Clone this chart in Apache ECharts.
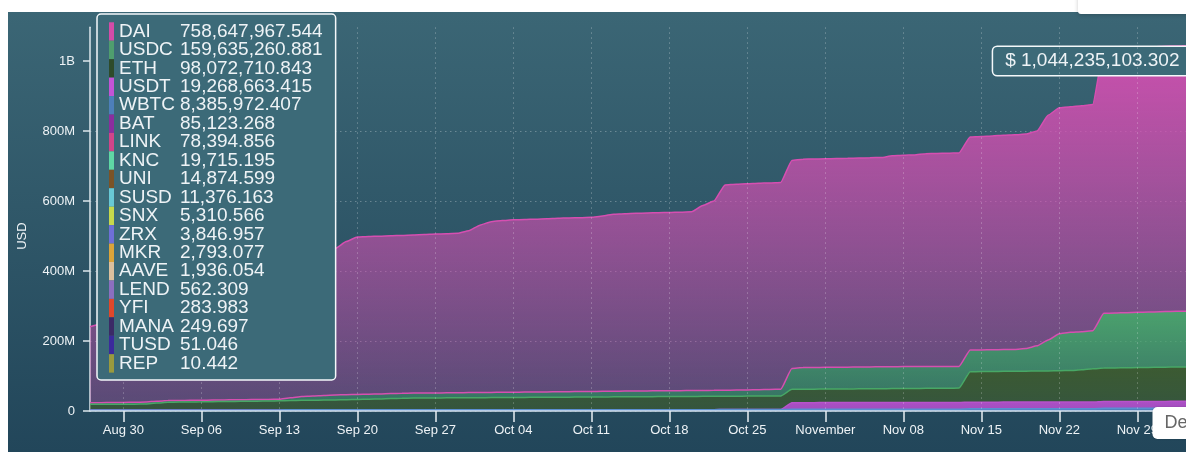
<!DOCTYPE html>
<html lang="en">

<head>
  <meta charset="UTF-8">
  <meta name="viewport" content="width=device-width, initial-scale=1.0">
  <title>locked value by asset</title>
  <style>
    html, body { margin: 0; padding: 0; background: #fff; overflow: hidden; }
    body { position: relative; width: 1186px; height: 452px; }
    .ch-box { position: absolute; left: 8px; top: 12px; width: 1230px; height: 440px; background: linear-gradient(#3b6675, #22465a); }
    .tvl-chart { width: 100%; height: 100%; }
    .top-card { position: absolute; left: 1078px; top: -12px; width: 220px; height: 26px; background: #fff; border-radius: 3px; box-shadow: 0 1px 4px rgba(0, 0, 0, .2); }
  </style>
</head>

<body>
  <div class="ch-box">
    <div class="tvl-chart" id="tvl-chart"></div>
  </div>
  <div class="top-card"></div>

  <script src="https://cdn.jsdelivr.net/npm/echarts@6/dist/echarts.min.js"></script>
  <script>
    // first day shown and number of daily points
    var startDay = [2020, 7, 27]
    var dayCount = 100

    var coins = ['DAI', 'USDC', 'ETH', 'USDT', 'WBTC', 'BAT', 'LINK', 'KNC', 'UNI', 'SUSD',
      'SNX', 'ZRX', 'MKR', 'AAVE', 'LEND', 'YFI', 'MANA', 'TUSD', 'REP']
    var coinColors = ['#d34ca8', '#4f9e6e', '#2e4b2a', '#c354d6', '#4d7fba', '#8b2e9e', '#d0458a', '#5fd8a5', '#7b5327', '#68c9d6',
      '#c6d84c', '#6e6fd8', '#dba43a', '#dcc09e', '#8b6fc0', '#e0482a', '#3b2a66', '#3b2a9c', '#9a9a3e']
    // values at the hovered (last) day, USD
    var latestValues = [758647967.544, 159635260.881, 98072710.843, 19268663.415, 8385972.407, 85123.268, 78394.856,
      19715.195, 14874.599, 11376.163, 5310.566, 3846.957, 2793.077, 1936.054, 562.309, 283.983, 249.697, 51.046, 10.442]

    var yTicks = [0, 200e6, 400e6, 600e6, 800e6, 1000e6]

    // daily balances, millions of USD
    var daiM = [
      217.3, 225.0, 226.7, 228.4, 231.0, 236.4, 243.0, 253.4, 266.0, 281.6,
      299.2, 309.8, 320.4, 337.0, 350.6, 359.2, 370.9, 385.6, 390.5, 395.5,
      403.0, 410.5, 418.3, 437.4, 449.7, 450.5, 450.7, 450.8, 450.9, 451.5,
      452.7, 453.9, 454.6, 455.3, 462.5, 478.2, 487.9, 490.6, 492.4, 493.1,
      493.8, 494.5, 495.7, 496.4, 496.6, 497.3, 501.0, 505.7, 506.9, 507.6,
      508.3, 509.0, 509.2, 509.9, 510.6, 528.3, 541.0, 586.6, 588.2, 588.8,
      589.7, 589.9, 590.7, 594.6, 595.5, 595.7, 595.9, 596.1, 596.8, 597.0,
      597.7, 597.9, 602.6, 603.9, 604.9, 608.3, 608.7, 609.1, 610.0, 608.7,
      609.9, 611.0, 612.1, 613.2, 612.5, 614.0, 642.0, 645.5, 644.5, 645.5,
      646.2, 756.0, 757.0, 757.0, 757.2, 757.4, 758.1, 758.3, 758.5, 758.647967544
    ]
    var usdcM = [
      4.6, 4.8, 5.0, 5.2, 5.4, 5.8, 5.5, 4.6, 4.6, 4.6,
      4.6, 4.6, 4.6, 4.6, 4.6, 4.6, 4.5, 4.4, 7.7, 11.1,
      12.2, 13.4, 14.3, 14.6, 14.5, 14.4, 14.4, 14.3, 14.3, 14.2,
      14.2, 14.3, 14.4, 14.5, 14.6, 14.7, 14.8, 14.9, 15.0, 15.1,
      15.2, 15.3, 15.4, 15.6, 15.7, 15.8, 16.0, 16.1, 16.2, 16.3,
      16.4, 16.5, 16.6, 16.7, 16.8, 16.9, 17.0, 17.2, 17.4, 17.7,
      18.2, 18.8, 19.3, 59.4, 61.8, 61.9, 62.0, 62.1, 62.2, 62.3,
      62.4, 62.5, 62.6, 62.6, 62.4, 62.3, 62.2, 62.0, 61.8, 62.0,
      62.0, 62.1, 62.2, 62.3, 64.7, 71.9, 88.6, 105.7, 108.9, 109.0,
      108.3, 156.5, 157.0, 157.5, 157.8, 158.2, 158.6, 159.0, 159.5, 159.635260881
    ]
    var ethM = [
      16.1, 16.2, 16.3, 16.4, 16.6, 16.8, 19.5, 22.0, 22.4, 22.8,
      23.0, 23.4, 23.8, 24.2, 24.6, 25.0, 25.4, 25.8, 26.6, 27.2,
      27.6, 27.9, 28.2, 28.8, 29.6, 30.4, 31.2, 32.2, 33.1, 33.6,
      33.6, 33.8, 34.0, 34.2, 34.4, 34.6, 34.8, 35.0, 35.1, 35.3,
      35.5, 35.7, 35.9, 36.0, 36.2, 36.4, 36.5, 36.7, 36.9, 37.1,
      37.2, 37.3, 37.4, 37.5, 37.7, 37.9, 38.1, 38.2, 38.4, 38.5,
      38.6, 38.8, 39.0, 38.2, 38.3, 38.5, 38.7, 38.9, 39.1, 39.3,
      39.5, 39.7, 39.9, 40.1, 40.3, 40.5, 40.7, 41.0, 41.3, 87.0,
      87.3, 87.6, 87.9, 88.2, 88.5, 88.8, 89.1, 89.5, 90.3, 92.2,
      95.2, 95.2, 95.7, 96.2, 96.7, 97.1, 97.5, 97.9, 98.0, 98.072710843
    ]
    var usdtM = [
      0, 0, 0, 0, 0, 0, 0, 0, 0, 0,
      0, 0, 0, 0, 0, 0, 0, 0, 0, 0,
      0, 0, 0, 0, 0, 0, 0, 0, 0, 0,
      0, 0, 0, 0, 0, 0, 0, 0, 0, 0,
      0, 0, 0, 0, 0, 0, 0, 0, 0, 0,
      0, 0, 0, 0, 0, 0, 0, 0, 0, 0,
      0, 0, 0, 18.9, 19.0, 19.0, 19.0, 19.0, 19.0, 19.0,
      19.0, 19.0, 19.0, 19.0, 19.0, 19.0, 19.0, 19.0, 19.0, 19.1,
      19.1, 19.1, 19.1, 19.1, 19.1, 19.1, 19.1, 19.1, 19.1, 19.1,
      19.1, 19.2, 19.2, 19.2, 19.2, 19.2, 19.2, 19.2, 19.25, 19.268663415
    ]
    var wbtcM = [
      2.9, 2.9, 3.0, 3.0, 3.0, 3.0, 3.1, 3.1, 3.1, 3.1,
      3.1, 3.2, 3.2, 3.2, 3.2, 3.2, 3.2, 3.2, 3.3, 3.3,
      3.3, 3.3, 3.3, 3.3, 3.3, 3.3, 3.3, 3.4, 3.4, 3.4,
      3.4, 3.4, 3.5, 3.5, 3.5, 3.5, 3.5, 3.5, 3.6, 3.6,
      3.6, 3.6, 3.6, 3.6, 3.7, 3.7, 3.7, 3.7, 3.7, 3.8,
      3.8, 3.8, 3.8, 3.9, 3.9, 3.9, 3.9, 4.0, 4.0, 4.0,
      4.0, 4.1, 4.1, 4.9, 4.9, 4.9, 5.0, 5.0, 5.0, 5.0,
      5.0, 5.1, 5.1, 5.1, 5.1, 5.2, 5.2, 5.2, 5.2, 6.2,
      6.2, 6.2, 6.3, 6.3, 6.3, 6.3, 6.4, 6.4, 6.4, 6.4,
      6.5, 8.1, 8.1, 8.1, 8.2, 8.2, 8.2, 8.3, 8.3, 8.385972407
    ]

    var font = "'Liberation Sans', Arial, sans-serif"
    var textColor = '#eef3f6'
    var monthShort = ['Jan', 'Feb', 'Mar', 'Apr', 'May', 'Jun', 'Jul', 'Aug', 'Sep', 'Oct', 'Nov', 'Dec']
    var monthLong = ['January', 'February', 'March', 'April', 'May', 'June', 'July', 'August',
      'September', 'October', 'November', 'December']

    var dates = []
    for (var i = 0; i < dayCount; i++) {
      dates.push(new Date(Date.UTC(startDay[0], startDay[1], startDay[2] + i)).toISOString().slice(0, 10))
    }

    var dateLabel = function (s) {
      var m = +s.slice(5, 7) - 1
      var d = s.slice(8, 10)
      return d === '01' ? monthLong[m] : monthShort[m] + ' ' + d
    }
    // one tick a week, on the Sundays
    var weekly = function (index) {
      return (index - 3) % 7 === 0
    }
    var money = function (v) {
      var parts = v.toFixed(3).split('.')
      return parts[0].replace(/\B(?=(\d{3})+(?!\d))/g, ',') + '.' + parts[1]
    }

    var latest = {}
    var total = 0
    coins.forEach(function (c, i) {
      latest[c] = latestValues[i]
      total += latestValues[i]
    })

    // stacked from the bottom up; each edge line takes the colour of the layer above it
    var layers = [
      { name: 'WBTC', values: wbtcM, stroke: '#5b8fd2', fill: ['rgba(84,136,200,0.95)', 'rgba(84,136,200,0.85)'] },
      { name: 'USDT', values: usdtM, stroke: '#b852cc', fill: ['rgba(186,80,208,0.9)', 'rgba(186,80,208,0.85)'] },
      { name: 'ETH', values: ethM, stroke: '#48a866', fill: ['rgba(62,92,46,0.92)', 'rgba(62,92,46,0.65)'] },
      { name: 'USDC', values: usdcM, stroke: '#d64fb1', fill: ['rgba(78,168,110,0.92)', 'rgba(78,168,110,0.42)'] },
      { name: 'DAI', values: daiM, stroke: '#d64fb1', fill: ['rgba(214,78,178,0.93)', 'rgba(214,78,178,0.3)'] }
    ]

    var series = []
    layers.forEach(function (layer, i) {
      series.push({
        name: layer.name,
        type: 'line',
        stack: 'tvl',
        z: 7 - i,
        color: coinColors[coins.indexOf(layer.name)],
        showSymbol: false,
        smooth: 0.15,
        smoothMonotone: 'x',
        lineStyle: { color: layer.stroke, width: 1.5 },
        areaStyle: {
          opacity: 1,
          color: new echarts.graphic.LinearGradient(0, 0, 0, 1, [
            { offset: 0, color: layer.fill[0] },
            { offset: 1, color: layer.fill[1] }
          ])
        },
        emphasis: { disabled: true },
        data: layer.values.map(function (v) { return v * 1e6 })
      })
    })

    // total of all assets on the last day
    series[series.length - 1].markPoint = {
      symbol: 'circle',
      symbolSize: 1,
      itemStyle: { color: 'rgba(0,0,0,0)' },
      data: [{ coord: [dayCount - 1, total], value: total }],
      label: {
        show: true,
        position: 'left',
        distance: 3,
        offset: [0, 15.5],
        formatter: '$ ' + money(total),
        color: textColor,
        fontFamily: font,
        fontSize: 19,
        backgroundColor: '#3c6a78',
        borderColor: '#f4f8fa',
        borderWidth: 1.5,
        borderRadius: 4,
        padding: [5, 10, 4, 12]
      }
    }

    // the small assets only show up in the list
    coins.forEach(function (c, i) {
      var drawn = layers.some(function (l) { return l.name === c })
      if (!drawn) {
        series.push({ name: c, type: 'line', color: coinColors[i], showSymbol: false, data: [] })
      }
    })

    var option = {
      animation: false,
      backgroundColor: 'transparent',
      textStyle: { fontFamily: font },
      grid: { left: 77, right: 45, top: 15.3, bottom: 41 },
      legend: {
        data: coins,
        orient: 'vertical',
        left: 89,
        top: 2,
        z: 20,
        icon: 'rect',
        itemWidth: 5,
        itemHeight: 18.44,
        itemGap: -0.56,
        selectedMode: false,
        padding: [8, 13, 7, 12],
        backgroundColor: '#3c6a78',
        borderColor: '#f4f8fa',
        borderWidth: 1.5,
        borderRadius: 4,
        itemStyle: { borderWidth: 0 },
        formatter: function (name) {
          return '{n|' + name + '}{v|' + money(latest[name]) + '}'
        },
        textStyle: {
          color: textColor,
          fontFamily: font,
          fontSize: 19,
          lineHeight: 18.44,
          rich: {
            n: { width: 61, color: textColor, fontFamily: font, fontSize: 19, lineHeight: 18.44 },
            v: { color: textColor, fontFamily: font, fontSize: 19, lineHeight: 18.44 }
          }
        }
      },
      xAxis: {
        type: 'category',
        data: dates,
        boundaryGap: false,
        z: 10,
        axisLine: { lineStyle: { color: '#d6e4ef', width: 1.5 } },
        axisTick: { interval: weekly, length: 11, lineStyle: { color: '#e8eef2', width: 1.5 } },
        axisLabel: { interval: weekly, formatter: dateLabel, margin: 13, color: textColor, fontSize: 13, fontFamily: font },
        splitLine: { show: true, interval: weekly, lineStyle: { color: 'rgba(255,255,255,0.28)', type: [1.5, 3.5], width: 1 } },
        axisPointer: {
          show: true,
          type: 'line',
          value: dayCount - 1,
          status: 'show',
          snap: false,
          triggerTooltip: false,
          lineStyle: { color: 'rgba(255,255,255,0)', width: 1 },
          label: {
            show: true,
            formatter: function (p) { return dateLabel(p.value) },
            backgroundColor: '#fff',
            color: '#666',
            fontFamily: font,
            fontSize: 18,
            padding: [7, 12, 7, 12],
            borderRadius: 5,
            margin: -4,
            shadowBlur: 2,
            shadowColor: 'rgba(0,0,0,0.2)'
          }
        }
      },
      yAxis: {
        type: 'value',
        min: 0,
        max: function (e) { return e.max * 1.05 },
        interval: 200e6,
        name: 'USD',
        nameLocation: 'middle',
        nameGap: 61,
        nameTextStyle: { color: textColor, fontSize: 13, fontFamily: font, padding: [0, 34, 0, 0] },
        axisLine: { show: true, lineStyle: { color: '#dde7ed', width: 1.5 } },
        axisTick: { show: true, length: 7, customValues: yTicks, lineStyle: { color: '#dde7ed', width: 1.5 } },
        axisLabel: {
          margin: 15,
          customValues: yTicks,
          color: textColor,
          fontSize: 13,
          fontFamily: font,
          formatter: function (v) {
            if (v >= 1e9) return v / 1e9 + 'B'
            if (v > 0) return v / 1e6 + 'M'
            return '0'
          }
        },
        splitLine: { show: true, showMaxLine: false, lineStyle: { color: 'rgba(255,255,255,0.28)', type: [1.5, 3.5], width: 1 } }
      },
      series: series
    }

    var chart = echarts.init(document.getElementById('tvl-chart'))
    chart.setOption(option)
  </script>

</body>

</html>
